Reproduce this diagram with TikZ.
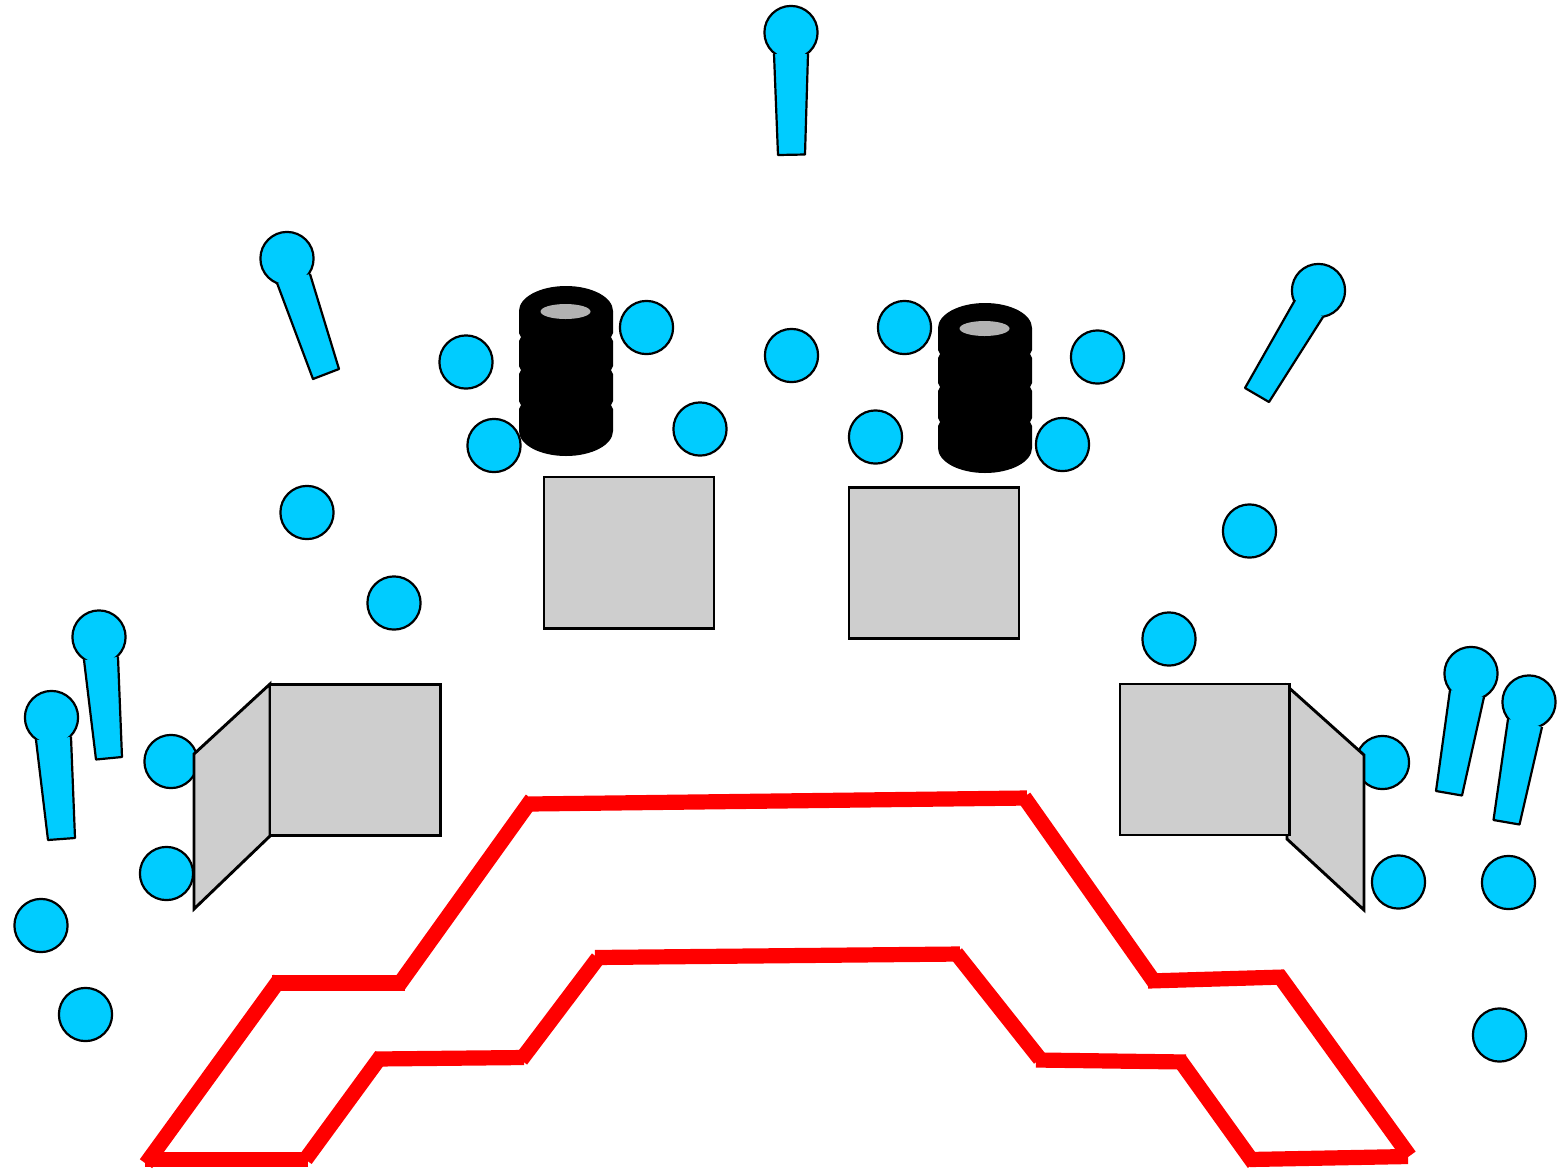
\documentclass[tikz,border=0pt]{standalone}
\usepackage{xcolor}
\definecolor{micblue}{HTML}{00CCFF}
\definecolor{boxgray}{HTML}{CECECE}
\definecolor{lidgray}{HTML}{B2B2B2}
\tikzset{
  spot/.style={draw=black,fill=micblue,line width=1.1pt},
  trunk/.style={fill=micblue},
  outline/.style={draw=black,line width=1.1pt,line join=round},
  booth/.style={draw=black,fill=boxgray,line width=1.45pt,line join=miter},
  barrier/.style={draw=red,line width=7.6pt},
}
\begin{document}
\begin{tikzpicture}[x=0.5pt,y=-0.5pt]
  \useasboundingbox (0,0) rectangle (1560,1169);
  % positions of people
  \draw[spot] (791.5,355.5) circle (26.6);
  \draw[spot] (466,362) circle (26.6);
  \draw[spot] (646.5,327.5) circle (26.6);
  \draw[spot] (494,445.5) circle (26.6);
  \draw[spot] (700,429) circle (26.6);
  \draw[spot] (904.5,327.5) circle (26.6);
  \draw[spot] (1097.5,357) circle (26.6);
  \draw[spot] (875.5,437) circle (26.6);
  \draw[spot] (1062.5,444.5) circle (26.6);
  \draw[spot] (307,512.5) circle (26.6);
  \draw[spot] (394,603) circle (26.6);
  \draw[spot] (1249.5,531) circle (26.6);
  \draw[spot] (1169,639) circle (26.6);
  \draw[spot] (171,761.5) circle (26.6);
  \draw[spot] (166.5,873.5) circle (26.6);
  \draw[spot] (41,925.5) circle (26.6);
  \draw[spot] (85.5,1014.5) circle (26.6);
  \draw[spot] (1382.5,762.5) circle (26.6);
  \draw[spot] (1398.5,882) circle (26.6);
  \draw[spot] (1508.5,882.5) circle (26.6);
  \draw[spot] (1499.5,1035) circle (26.6);
  % microphones
  \draw[spot] (791,32.5) circle (26.6);
  \path[trunk] (774,54) -- (778,155) -- (805,154.5) -- (808,54) -- cycle;
  \draw[outline] (774,54) -- (778,155) -- (805,154.5) -- (808,54);
  \draw[spot] (287,258.5) circle (26.6);
  \path[trunk] (277,283) -- (313,379) -- (339,369) -- (310,274) -- cycle;
  \draw[outline] (277,283) -- (313,379) -- (339,369) -- (310,274);
  \draw[spot] (1318.5,290.5) circle (26.6);
  \path[trunk] (1295,300) -- (1245,388) -- (1269,402) -- (1323,317) -- cycle;
  \draw[outline] (1295,300) -- (1245,388) -- (1269,402) -- (1323,317);
  \draw[spot] (99,637) circle (26.6);
  \path[trunk] (84,660) -- (96,759.5) -- (122,757) -- (118,657) -- cycle;
  \draw[outline] (84,660) -- (96,759.5) -- (122,757) -- (118,657);
  \draw[spot] (51.5,717.5) circle (26.6);
  \path[trunk] (36,740) -- (48,840) -- (75,838) -- (71,737) -- cycle;
  \draw[outline] (36,740) -- (48,840) -- (75,838) -- (71,737);
  \draw[spot] (1471,673.5) circle (26.6);
  \path[trunk] (1450,690) -- (1436,791) -- (1462,795.5) -- (1484,697) -- cycle;
  \draw[outline] (1450,690) -- (1436,791) -- (1462,795.5) -- (1484,697);
  \draw[spot] (1529,702) circle (26.6);
  \path[trunk] (1508,719) -- (1493.5,820) -- (1519.5,824.5) -- (1542,727) -- cycle;
  \draw[outline] (1508,719) -- (1493.5,820) -- (1519.5,824.5) -- (1542,727);
  % barrels
  \fill[black] (566,311) ellipse (47 and 25);
  \fill[black] (566,431) ellipse (47 and 25);
  \fill[black] (519,311) -- (519,333) -- (521,337) -- (519,341) -- (519,366) -- (521,370) -- (519,374) -- (519,401) -- (521,405) -- (519,409) -- (519,431)
    -- (613,431) -- (613,409) -- (611,405) -- (613,401) -- (613,374) -- (611,370) -- (613,366) -- (613,341) -- (611,337) -- (613,333) -- (613,311) -- cycle;
  \fill[lidgray] (565.5,311.5) ellipse (25 and 7.5);
  \fill[black] (985,328) ellipse (47 and 25);
  \fill[black] (985,448) ellipse (47 and 25);
  \fill[black] (938,328) -- (938,350) -- (940,354) -- (938,358) -- (938,383) -- (940,387) -- (938,391) -- (938,418) -- (940,422) -- (938,426) -- (938,448)
    -- (1032,448) -- (1032,426) -- (1030,422) -- (1032,418) -- (1032,391) -- (1030,387) -- (1032,383) -- (1032,358) -- (1030,354) -- (1032,350) -- (1032,328) -- cycle;
  \fill[lidgray] (984.5,328.5) ellipse (25 and 7.5);
  % podia and booths
  \draw[booth] (544,477) rectangle (714,628.5);
  \draw[booth] (849,487.5) rectangle (1019,638.5);
  \draw[booth] (194,754) -- (270,684) -- (270,836) -- (194,909) -- cycle;
  \draw[booth] (270,684.5) rectangle (440.5,835.5);
  \draw[booth] (1287,686) -- (1364,755) -- (1364,910) -- (1287,839) -- cycle;
  \draw[booth] (1120,684) rectangle (1289.5,835);
  % barrier
  \draw[barrier] (145,1159.5) -- (308,1159.5);
  \draw[barrier] (305.5,1159.5) -- (381.5,1055.5);
  \draw[barrier] (376,1059) -- (524,1057.5);
  \draw[barrier] (521,1060) -- (598,958);
  \draw[barrier] (595,957.5) -- (960,954);
  \draw[barrier] (956,953) -- (1040,1059);
  \draw[barrier] (1036,1060) -- (1186,1062);
  \draw[barrier] (1179,1059) -- (1254,1163.5);
  \draw[barrier] (1250,1159.5) -- (1408,1156.5);
  \draw[barrier] (1409.5,1156) -- (1278,974);
  \draw[barrier] (1284,977) -- (1148,981);
  \draw[barrier] (1155,983) -- (1024,797);
  \draw[barrier] (1027,798) -- (529,804);
  \draw[barrier] (532,799) -- (398,986);
  \draw[barrier] (405,983) -- (272,983);
  \draw[barrier] (280,979) -- (146,1163.7);
\end{tikzpicture}
\end{document}
